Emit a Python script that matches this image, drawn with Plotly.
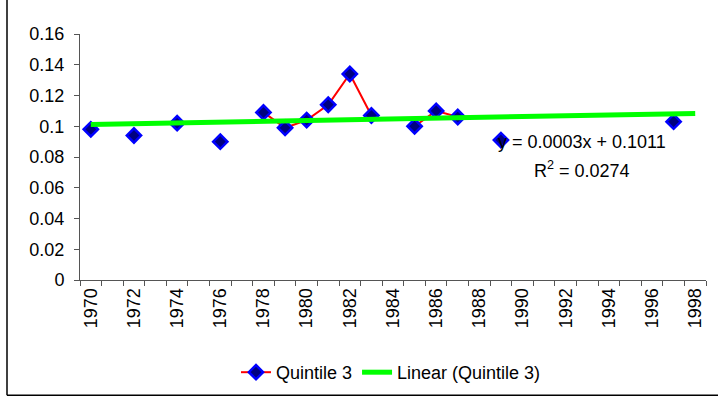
import numpy as np
import plotly.graph_objects as go

# years on the category axis (1970..1998) and the observed values
years = list(range(1970, 1999))
obs_years = [1970, 1972, 1974, 1976, 1978, 1979, 1980, 1981, 1982, 1983,
             1985, 1986, 1987, 1989, 1997]
obs_values = [0.098, 0.094, 0.102, 0.090, 0.109, 0.099, 0.104, 0.114, 0.134,
              0.107, 0.100, 0.110, 0.106, 0.091, 0.103]
tick_years = list(range(1970, 1999, 2))
y_ticks = [0, 0.02, 0.04, 0.06, 0.08, 0.1, 0.12, 0.14, 0.16]

PLOT_L, PLOT_R, PLOT_T, PLOT_B = 80, 706, 34, 284
W, H = 718, 403


def px_x(px):
    return (px - PLOT_L) / (PLOT_R - PLOT_L)


def px_y(py):
    return (PLOT_B - py) / (PLOT_B - PLOT_T)


def main():
    lookup = dict(zip(obs_years, obs_values))
    series = [lookup.get(y) for y in years]

    # excel style linear trend, x = category index starting at 1
    idx = np.array([years.index(y) + 1 for y in obs_years])
    slope, icept = np.polyfit(idx, obs_values, 1)
    trend_x = [years[0], years[-1]]
    trend_y = [slope * 1 + icept, slope * len(years) + icept]

    fig = go.Figure()
    fig.add_trace(go.Scatter(
        x=years, y=series, mode="lines+markers", name="Quintile 3",
        connectgaps=False,
        line=dict(color="#FF0000", width=2),
        marker=dict(symbol="diamond", size=11, color="#000080",
                    line=dict(color="#0000FF", width=2.5)),
    ))
    fig.add_trace(go.Scatter(
        x=trend_x, y=trend_y, mode="lines", name="Linear (Quintile 3)",
        line=dict(color="#00FF00", width=5),
    ))

    fig.add_annotation(x=px_x(582), y=px_y(144), xref="paper", yref="paper",
                       xanchor="center", yanchor="middle",
                       text="y = 0.0003x + 0.1011", showarrow=False,
                       font=dict(size=18))
    fig.add_annotation(x=px_x(582), y=px_y(172), xref="paper", yref="paper",
                       xanchor="center", yanchor="middle",
                       text="R<sup>2</sup> = 0.0274", showarrow=False,
                       font=dict(size=18))

    # outer chart border (cropped at the top and the right)
    fig.add_shape(type="line", xref="paper", yref="paper",
                  x0=px_x(7), x1=px_x(7), y0=px_y(-5), y1=px_y(401),
                  line=dict(color="black", width=1.5))
    fig.add_shape(type="line", xref="paper", yref="paper",
                  x0=px_x(7), x1=px_x(725), y0=px_y(401), y1=px_y(401),
                  line=dict(color="black", width=1.5))

    fig.update_layout(
        width=W, height=H,
        margin=dict(l=PLOT_L, r=W - PLOT_R, t=PLOT_T, b=H - PLOT_B),
        paper_bgcolor="white",
        plot_bgcolor="white",
        font=dict(family="Liberation Sans, Arial", size=18, color="black"),
        showlegend=True,
        legend=dict(orientation="h", x=px_x(391), y=px_y(378),
                    xanchor="center", yanchor="middle",
                    font=dict(size=18), itemwidth=30,
                    bgcolor="rgba(0,0,0,0)"),
        xaxis=dict(
            range=[years[0] - 0.5, years[-1] + 0.5],
            tickvals=tick_years, ticktext=[str(y) for y in tick_years],
            tickangle=-90, ticks="", showgrid=False, zeroline=False,
            showline=True, linecolor="#555555", linewidth=1,
            minor=dict(ticks="outside", tick0=years[0] - 0.5, dtick=1,
                       ticklen=5, tickcolor="#555555", showgrid=False),
            tickfont=dict(size=18),
        ),
        yaxis=dict(
            range=[0, 0.16], tickvals=y_ticks,
            ticktext=[f"{v:g}" for v in y_ticks],
            ticks="outside", ticklen=5, tickcolor="#555555",
            showgrid=False, zeroline=False,
            showline=True, linecolor="#555555", linewidth=1,
            tickfont=dict(size=18), ticklabelstandoff=6,
        ),
    )
    # drop the default page margin and scrollbars so the figure sits at the
    # window corner at its real size
    fig.write_html(
        "out.html",
        config={"displayModeBar": False},
        post_script=("document.body.style.margin='0px';"
                     "document.body.style.overflow='hidden';"
                     "document.documentElement.style.overflow='hidden';"),
    )


if __name__ == "__main__":
    main()
